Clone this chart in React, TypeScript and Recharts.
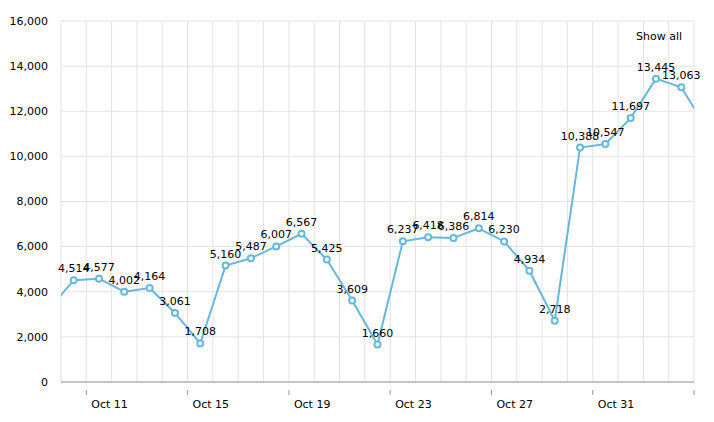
import React from 'react';
import { LineChart, Line, XAxis, YAxis, CartesianGrid, LabelList } from 'recharts';

// Days from Oct 9 to Nov 4 (first and last fall just outside the visible window)
const dates = [
  'Oct 9', 'Oct 10', 'Oct 11', 'Oct 12', 'Oct 13', 'Oct 14', 'Oct 15', 'Oct 16', 'Oct 17',
  'Oct 18', 'Oct 19', 'Oct 20', 'Oct 21', 'Oct 22', 'Oct 23', 'Oct 24', 'Oct 25', 'Oct 26',
  'Oct 27', 'Oct 28', 'Oct 29', 'Oct 30', 'Oct 31', 'Nov 1', 'Nov 2', 'Nov 3', 'Nov 4',
];
const values = [
  3200, 4514, 4577, 4002, 4164, 3061, 1708, 5160, 5487,
  6007, 6567, 5425, 3609, 1660, 6237, 6418, 6386, 6814,
  6230, 4934, 2718, 10388, 10547, 11697, 13445, 13063, 11230,
];
const labeledDates = ['Oct 11', 'Oct 15', 'Oct 19', 'Oct 23', 'Oct 27', 'Oct 31', 'Nov 4'];
const hiddenLabelDates = ['Nov 4'];
const yTicks = [0, 2000, 4000, 6000, 8000, 10000, 12000, 14000, 16000];

const data = dates.map((d, i) => ({ x: i, date: d, value: values[i] }));
const gridTicks = dates.slice(1).map((_, i) => i + 0.5);

const FONT = "Verdana, 'DejaVu Sans', sans-serif";
const COLOR = '#67b7dc';
const fmt = (v: number) => v.toLocaleString('en-US');

const XTick = (props: any) => {
  const { x, y, payload } = props;
  const dayIdx = Math.round(payload.value + 0.5);
  const d = dates[dayIdx];
  if (!d || !labeledDates.includes(d)) return null;
  return (
    <g>
      <line x1={x} x2={x} y1={y} y2={y + 5} stroke="#999" strokeWidth={1} />
      {!hiddenLabelDates.includes(d) && (
        <text x={x + 5} y={y + 18} fontSize={11} fontFamily={FONT} fill="#000" textAnchor="start">
          {d}
        </text>
      )}
    </g>
  );
};

const YTick = (props: any) => {
  const { y, payload } = props;
  return (
    <text x={48} y={y} dy="0.35em" fontSize={11} fontFamily={FONT} fill="#000" textAnchor="end">
      {fmt(payload.value)}
    </text>
  );
};

const Dot = (props: any) => {
  const { cx, cy, index } = props;
  if (index === 0 || index === data.length - 1) return null;
  return <circle key={`d${index}`} cx={cx} cy={cy} r={3} fill="#fff" stroke={COLOR} strokeWidth={2} />;
};

const ValueLabel = (props: any) => {
  const { x, y, value, index } = props;
  if (index === 0 || index === data.length - 1) return null;
  return (
    <text x={x} y={y - 8} fontSize={11} fontFamily={FONT} fill="#000" textAnchor="middle">
      {fmt(value)}
    </text>
  );
};

export default function App() {
  return (
    <div style={{ position: 'relative', margin: -8, width: 714, height: 422, background: '#fff' }}>
      <LineChart
        width={714}
        height={422}
        data={data}
        margin={{ top: 21, right: 20, bottom: 0, left: 0 }}
      >
        <CartesianGrid stroke="#e3e3e3" />
        <XAxis
          type="number"
          dataKey="x"
          domain={[0.5, 25.5]}
          allowDataOverflow
          ticks={gridTicks}
          interval={0}
          tick={<XTick />}
          tickLine={false}
          axisLine={{ stroke: '#999' }}
          height={40}
        />
        <YAxis
          domain={[0, 16000]}
          ticks={yTicks}
          interval={0}
          width={61}
          axisLine={false}
          tickLine={false}
          tick={<YTick />}
        />
        <Line
          type="linear"
          dataKey="value"
          stroke={COLOR}
          strokeWidth={2}
          dot={<Dot />}
          activeDot={false}
          isAnimationActive={false}
        >
          <LabelList dataKey="value" content={<ValueLabel />} />
        </Line>
      </LineChart>
      <div
        style={{
          position: 'absolute',
          left: 636,
          top: 30,
          fontSize: 11,
          fontFamily: FONT,
          color: '#000',
          lineHeight: '13px',
        }}
      >
        Show all
      </div>
    </div>
  );
}
